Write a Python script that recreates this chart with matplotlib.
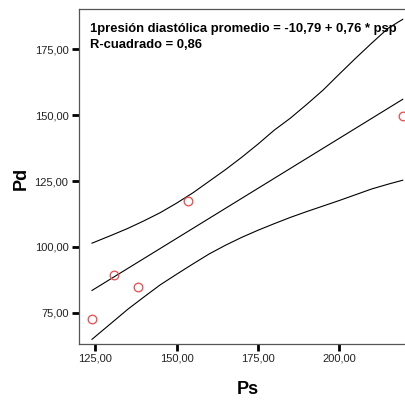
import matplotlib
matplotlib.use("Agg")
import matplotlib.pyplot as plt
import numpy as np

plt.rcParams['font.family'] = ['Liberation Sans', 'DejaVu Sans']

# Observed points (Ps, Pd)
ps = [124.0, 130.7, 138.2, 153.4, 219.5]
pd = [72.6, 89.4, 84.9, 117.5, 149.5]

# Regression coefficients (from the chart annotation)
intercept = -10.79
slope = 0.76

# Confidence band
band_x = [124.0, 130.0, 135.0, 140.0, 145.0, 150.0, 155.0, 160.0, 165.0, 170.0,
          175.0, 180.0, 185.0, 190.0, 195.0, 200.0, 205.0, 210.0, 215.0, 219.5]
band_upper = [101.4, 104.4, 107.0, 109.9, 113.0, 116.6, 120.5, 124.9, 129.3, 134.0,
              139.0, 144.3, 148.9, 154.1, 159.5, 165.6, 171.6, 177.4, 183.0, 186.4]
band_lower = [64.9, 71.1, 76.3, 81.0, 85.6, 89.6, 93.5, 97.3, 100.6, 103.6,
              106.3, 108.8, 111.2, 113.4, 115.5, 117.6, 119.8, 122.0, 123.8, 125.3]

xticks = [125, 150, 175, 200]
yticks = [75, 100, 125, 150, 175]

W, H = 406, 400
fig = plt.figure(figsize=(W / 100, H / 100), dpi=100)
left, right, top, bottom = 79.3, 406, 9.3, 344.3
ax = fig.add_axes([left / W, 1 - bottom / H, (right - left) / W, (bottom - top) / H])

bx = np.array(band_x)
ax.plot(bx, intercept + slope * bx, color='black', lw=0.8)
ax.plot(band_x, band_upper, color='black', lw=0.8)
ax.plot(band_x, band_lower, color='black', lw=0.8)
ax.plot(ps, pd, linestyle='none', marker='o', markersize=6.2, markerfacecolor='none',
        markeredgecolor='#f04848', markeredgewidth=0.9, clip_on=False)

ax.set_xlim(120.1, 220.5)
ax.set_ylim(63.0, 190.2)
ax.set_xticks(xticks)
ax.set_yticks(yticks)
ax.set_xticklabels([f"{v:.2f}".replace('.', ',') for v in xticks])
ax.set_yticklabels([f"{v:.2f}".replace('.', ',') for v in yticks])
ax.tick_params(direction='out', length=4.8, width=2.0, color='black', labelsize=8,
               labelcolor='#222222')
ax.tick_params(axis='y', pad=3)
ax.tick_params(axis='x', pad=2)

for s in ['left', 'bottom', 'top']:
    ax.spines[s].set_color('#555555')
    ax.spines[s].set_linewidth(0.9)
ax.spines['right'].set_visible(False)

fig.text(21.7 / W, 1 - 178 / H, 'Pd', rotation=90, ha='center', va='center',
         fontsize=13, fontweight='bold')
fig.text(248 / W, 1 - 390 / H, 'Ps', ha='center', va='center',
         fontsize=13, fontweight='bold')

ax.text(90 / W, 1 - 29 / H, '1presión diastólica promedio = -10,79 + 0,76 * psp',
        transform=fig.transFigure, ha='left', va='center', fontsize=9.4, fontweight='bold')
ax.text(90 / W, 1 - 44.5 / H, 'R-cuadrado = 0,86',
        transform=fig.transFigure, ha='left', va='center', fontsize=9.4, fontweight='bold')

fig.savefig('out.png', dpi=100)
